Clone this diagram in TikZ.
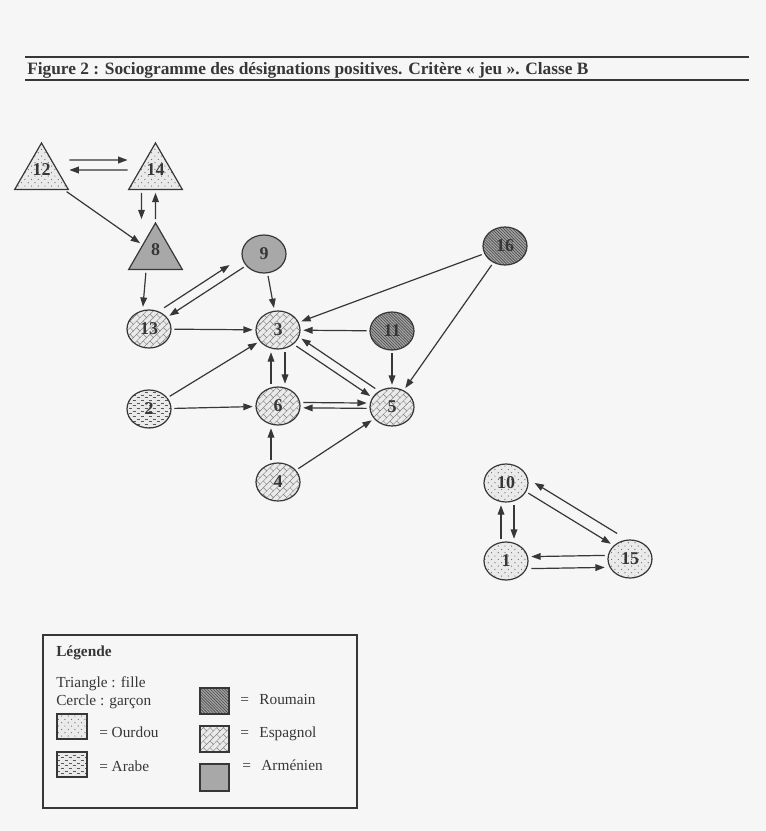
\documentclass[tikz,border=0pt]{standalone}
\usepackage{fontspec}
\setmainfont{Liberation Serif}
\usepackage{tikz}
\usetikzlibrary{arrows.meta}
\usetikzlibrary{patterns}
\usetikzlibrary{shapes.geometric}
\definecolor{papier}{RGB}{246, 246, 246}
\definecolor{encre}{RGB}{55, 55, 55}
\definecolor{fondclair}{RGB}{234, 234, 234}
\definecolor{armenien}{RGB}{168, 168, 168}
\definecolor{roumain}{RGB}{165, 165, 165}

% motifs des langues
\pgfdeclarepatternformonly{ourdou}{\pgfqpoint{-0.5pt}{-0.5pt}}{\pgfqpoint{5.5pt}{5.5pt}}{\pgfqpoint{5pt}{5pt}}{
  \pgfpathcircle{\pgfqpoint{1.2pt}{1.2pt}}{0.45pt}
  \pgfpathcircle{\pgfqpoint{3.7pt}{3.7pt}}{0.45pt}
  \pgfusepath{fill}}
\pgfdeclarepatternformonly{arabe}{\pgfqpoint{-0.5pt}{-0.5pt}}{\pgfqpoint{6.5pt}{4.5pt}}{\pgfqpoint{6pt}{4pt}}{
  \pgfsetlinewidth{0.45pt}
  \pgfpathmoveto{\pgfqpoint{0.5pt}{1pt}}\pgfpathlineto{\pgfqpoint{2.7pt}{1pt}}
  \pgfpathmoveto{\pgfqpoint{3.5pt}{3pt}}\pgfpathlineto{\pgfqpoint{5.7pt}{3pt}}
  \pgfusepath{stroke}}
\pgfdeclarepatternformonly{roumain}{\pgfqpoint{-1pt}{-1pt}}{\pgfqpoint{3.2pt}{3.2pt}}{\pgfqpoint{2.2pt}{2.2pt}}{
  \pgfsetlinewidth{0.45pt}
  \pgfpathmoveto{\pgfqpoint{-0.1pt}{2.3pt}}\pgfpathlineto{\pgfqpoint{2.3pt}{-0.1pt}}
  \pgfusepath{stroke}}
\pgfdeclarepatternformonly{espagnol}{\pgfqpoint{-0.5pt}{-0.5pt}}{\pgfqpoint{5.5pt}{5.5pt}}{\pgfqpoint{5pt}{5pt}}{
  \pgfsetlinewidth{0.35pt}
  \pgfpathmoveto{\pgfqpoint{-0.2pt}{-0.2pt}}\pgfpathlineto{\pgfqpoint{5.2pt}{5.2pt}}
  \pgfpathmoveto{\pgfqpoint{2.5pt}{2.5pt}}\pgfpathlineto{\pgfqpoint{5pt}{0pt}}
  \pgfusepath{stroke}}

\begin{document}
\begin{tikzpicture}[x=0.75pt, y=-0.75pt,
    garcon/.style={ellipse, draw=encre, line width=0.9pt, minimum width=33pt, minimum height=28.5pt,
                   inner sep=0pt, font=\fontsize{13.5}{15}\selectfont\bfseries, text=encre},
    fille/.style={regular polygon, regular polygon sides=3, draw=encre, line width=0.9pt,
                  minimum size=46.5pt, inner sep=0pt, text depth=7pt,
                  font=\fontsize{13.5}{15}\selectfont\bfseries, text=encre},
    ourdou/.style={preaction={fill=fondclair}, pattern=ourdou, pattern color=black!60},
    arabe/.style={preaction={fill=fondclair}, pattern=arabe, pattern color=black!65},
    roumain/.style={preaction={fill=roumain}, pattern=roumain, pattern color=black!70},
    espagnol/.style={preaction={fill=fondclair}, pattern=espagnol, pattern color=black!50},
    armen/.style={fill=armenien},
    fleche/.style={draw=encre, line width=0.9pt, -{Triangle[length=7pt,width=5pt]},
                   shorten >=2pt, shorten <=2pt},
    ecart/.style={shorten >=7pt, shorten <=7pt},
    legende/.style={anchor=base west, inner sep=0pt, font=\fontsize{11.5}{13}\selectfont, text=encre}]
  \fill[papier] (0,0) rectangle (766,831);
  \useasboundingbox (0,0) rectangle (766,831);

  % titre
  \draw[encre, line width=0.9pt] (25,57) -- (749,57);
  \draw[encre, line width=0.9pt] (25,80) -- (749,80);
  \node[anchor=base west, inner sep=0pt, text=encre, font=\fontsize{13}{15}\selectfont\bfseries] (titre) at (27,75)
      {Figure 2 : Sociogramme des désignations positives. Critère « jeu ». Classe B};

  % filles
  \node[fille, ourdou] (e12) at ( 41.5,174) {12};
  \node[fille, ourdou] (e14) at (155.5,174) {14};
  \node[fille, armen]  (e8)  at (155.5,254) {8};

  % garcons
  \node[garcon, armen]    (e9)  at (264,254) {9};
  \node[garcon, roumain]  (e16) at (505,246) {16};
  \node[garcon, espagnol] (e13) at (149,329) {13};
  \node[garcon, espagnol] (e3)  at (278,330) {3};
  \node[garcon, roumain]  (e11) at (392,331) {11};
  \node[garcon, arabe]    (e2)  at (149,409) {2};
  \node[garcon, espagnol] (e6)  at (278,406) {6};
  \node[garcon, espagnol] (e5)  at (392,407) {5};
  \node[garcon, espagnol] (e4)  at (278,482) {4};
  \node[garcon, ourdou]   (e10) at (506,483) {10};
  \node[garcon, ourdou]   (e1)  at (506,561) {1};
  \node[garcon, ourdou]   (e15) at (630,559) {15};

  % choix
  \draw[fleche, ecart, transform canvas={yshift=10.5pt}] (e12) -- (e14);
  \draw[fleche, ecart, transform canvas={yshift=3pt}]    (e14) -- (e12);
  \draw[fleche, transform canvas={xshift=-10.5pt}]       (e14) -- (e8);
  \draw[fleche]                                          (e8)  -- (e14);
  \draw[fleche]                                          (e12) -- (e8);
  \draw[fleche, transform canvas={xshift=-6pt}]          (e8)  -- (e13);
  \draw[fleche, shorten >=10pt, transform canvas={shift={(-3.9pt,6pt)}}] (e13) -- (e9);
  \draw[fleche]                                          (e9)  -- (e13);
  \draw[fleche]                                          (e9)  -- (e3);
  \draw[fleche]                                          (e13) -- (e3);
  \draw[fleche]                                          (e16) -- (e3);
  \draw[fleche]                                          (e11) -- (e3);
  \draw[fleche]                                          (e11) -- (e5);
  \draw[fleche]                                          (e16) -- (e5);
  \draw[fleche]                                          (e2)  -- (e3);
  \draw[fleche]                                          (e2)  -- (e6);
  \draw[fleche, transform canvas={xshift=-5.25pt}]       (e6)  -- (e3);
  \draw[fleche, transform canvas={xshift=5.25pt}]        (e3)  -- (e6);
  \draw[fleche, transform canvas={shift={(-1.3pt,-1.9pt)}}] (e3) -- (e5);
  \draw[fleche, transform canvas={shift={(2.5pt,3.7pt)}}]   (e5) -- (e3);
  \draw[fleche, transform canvas={yshift=2.8pt}]         (e6)  -- (e5);
  \draw[fleche, transform canvas={yshift=-1.2pt}]        (e5)  -- (e6);
  \draw[fleche, transform canvas={xshift=-5.25pt}]       (e4)  -- (e6);
  \draw[fleche]                                          (e4)  -- (e5);
  \draw[fleche, transform canvas={xshift=-3.75pt}]       (e1)  -- (e10);
  \draw[fleche, transform canvas={xshift=6pt}]           (e10) -- (e1);
  \draw[fleche, transform canvas={shift={(1.2pt,1.9pt)}}]   (e10) -- (e15);
  \draw[fleche, transform canvas={shift={(5.9pt,9.6pt)}}]   (e15) -- (e10);
  \draw[fleche, transform canvas={yshift=3pt}]           (e15) -- (e1);
  \draw[fleche, transform canvas={yshift=-6pt}]          (e1)  -- (e15);

  % legende
  \draw[encre, line width=0.8pt] (43,635) rectangle (357,808);
  \node[legende, font=\fontsize{11.5}{13}\selectfont\bfseries] (l-titre) at (56,656) {Légende};
  \node[legende] (l-fille)  at (56,687) {Triangle : fille};
  \node[legende] (l-garcon) at (56,705) {Cercle : garçon};
  \draw[encre, line width=0.8pt, ourdou]   (57,714) rectangle (87,739);
  \draw[encre, line width=0.8pt, arabe]    (57,752) rectangle (87,777);
  \draw[encre, line width=0.8pt, roumain]  (200,688) rectangle (229,714);
  \draw[encre, line width=0.8pt, espagnol] (200,726) rectangle (229,752);
  \draw[encre, line width=0.8pt, armen]    (200,764) rectangle (229,791);
  \node[legende] (l-ourdou)   at (99,737)  {= Ourdou};
  \node[legende] (l-arabe)    at (99,771)  {= Arabe};
  \node[legende] (l-roumain)  at (240,704) {=\hspace{5pt} Roumain};
  \node[legende] (l-espagnol) at (240,737) {=\hspace{5pt} Espagnol};
  \node[legende] (l-armenien) at (242,770) {=\hspace{5pt} Arménien};
\end{tikzpicture}
\end{document}
